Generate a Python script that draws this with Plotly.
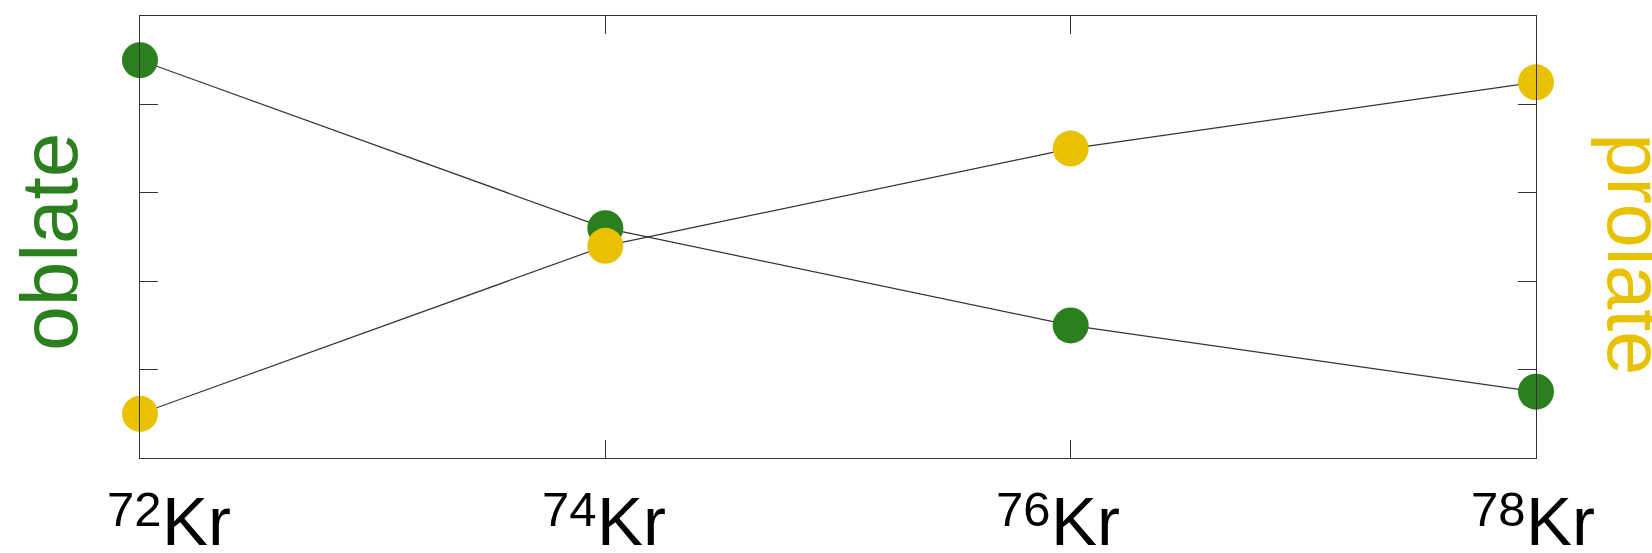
import plotly.graph_objects as go

# Mass numbers of the krypton isotopes along the chain
mass_numbers = [72, 74, 76, 78]
mass_labels = ["72", "74", "76", "78"]
element = "Kr"

# Relative weight of each shape configuration
oblate = [4.5, 2.6, 1.5, 0.75]
prolate = [0.5, 2.4, 3.5, 4.25]

GREEN = "#2c7f1e"
YELLOW = "#e8c100"
LINE = "#333333"
FONT = "Liberation Sans, Arial, Helvetica, sans-serif"

# horizontal offset (pixels) of the split between mass number and symbol
label_nudge = [22, -8, -20, -10]

fig = go.Figure()

for values, color in ((oblate, GREEN), (prolate, YELLOW)):
    fig.add_trace(go.Scatter(
        x=mass_numbers, y=values,
        mode="lines+markers",
        line=dict(color=LINE, width=1.2),
        marker=dict(color=color, size=36, line=dict(width=0)),
        cliponaxis=False,
        showlegend=False,
        hoverinfo="skip",
    ))

axis_common = dict(
    showline=True, linecolor=LINE, linewidth=1.2,
    mirror="ticks", ticks="inside", ticklen=18, tickwidth=1.2, tickcolor=LINE,
    showgrid=False, zeroline=False, automargin=False, showticklabels=False,
)

fig.update_xaxes(range=[72, 78], tickvals=mass_numbers, **axis_common)
fig.update_yaxes(range=[0, 5], tickvals=[1, 2, 3, 4], **axis_common)

# Isotope names under the axis: raised mass number followed by the symbol
for m, num, dx in zip(mass_numbers, mass_labels, label_nudge):
    fig.add_annotation(
        text=num, x=m, xref="x", y=0, yref="paper",
        xanchor="right", yanchor="top", xshift=dx + 1, yshift=-23,
        showarrow=False, borderpad=0,
        font=dict(family=FONT, size=49, color="black"),
    )
    fig.add_annotation(
        text=element, x=m, xref="x", y=0, yref="paper",
        xanchor="left", yanchor="top", xshift=dx - 1, yshift=-31,
        height=62, valign="middle",
        showarrow=False, borderpad=0,
        font=dict(family=FONT, size=69, color="black"),
    )

# Side labels naming the two configurations
fig.add_annotation(
    text="oblate", xref="paper", yref="paper", x=-0.065, y=0.49,
    xanchor="center", yanchor="middle", textangle=-90, showarrow=False,
    font=dict(family=FONT, size=80, color=GREEN),
)
fig.add_annotation(
    text="prolate", xref="paper", yref="paper", x=1.071, y=0.46,
    xanchor="center", yanchor="middle", textangle=90, showarrow=False,
    font=dict(family=FONT, size=79, color=YELLOW),
)

fig.update_layout(
    width=1652, height=553,
    margin=dict(l=140, r=116, t=16, b=95),
    plot_bgcolor="white", paper_bgcolor="white",
)

fig.write_html("out.html")
